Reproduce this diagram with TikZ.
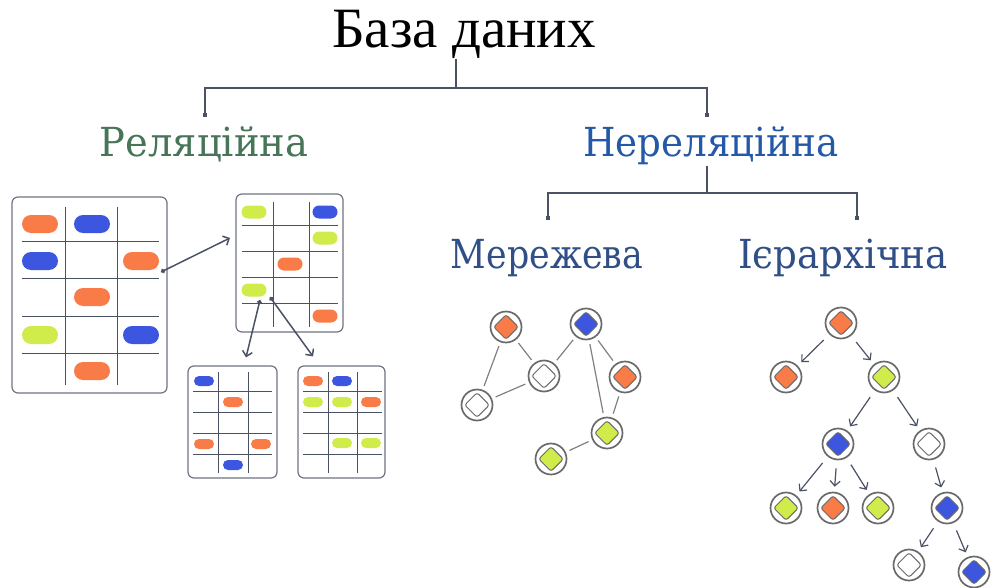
\documentclass[tikz,border=0pt]{standalone}
\usepackage{fontspec}
\setmainfont{Liberation Serif}
\newfontfamily\labfont[FakeStretch=0.96]{DejaVu Serif}
\newfontfamily\midfont[FakeStretch=0.93]{DejaVu Serif}
\newfontfamily\narfont[FakeStretch=0.87]{DejaVu Serif}
\usetikzlibrary{shapes.misc, shapes.geometric, arrows.meta}

\definecolor{pillorange}{HTML}{F97B47}
\definecolor{pillblue}{HTML}{3D56DF}
\definecolor{pilllime}{HTML}{CFEC4A}
\definecolor{relgreen}{HTML}{467558}
\definecolor{nonblue}{HTML}{2459A8}
\definecolor{subblue}{HTML}{2F4F86}
\definecolor{linegray}{HTML}{4A5264}
\definecolor{boxgray}{HTML}{6E7480}
\definecolor{ringgray}{HTML}{6A6A6A}

\tikzset{
  branch/.style={draw=linegray, line width=1.2pt},
  tablebox/.style={draw=boxgray, line width=1.2pt, rounded corners=6pt, fill=white, inner sep=0pt},
  gridline/.style={draw=linegray, line width=1pt},
  pillL/.style={rounded rectangle, fill=#1, minimum width=36pt, minimum height=18pt, inner sep=0pt},
  pillM/.style={rounded rectangle, fill=#1, minimum width=25pt, minimum height=13pt, inner sep=0pt},
  pillS/.style={rounded rectangle, fill=#1, minimum width=20pt, minimum height=10pt, inner sep=0pt},
  link/.style={draw=linegray, line width=1.5pt, {Circle[length=4.5pt]}-{Straight Barb[length=5pt,width=10pt]}},
  ring/.style={circle, draw=ringgray, line width=1.7pt, fill=white, minimum size=31pt, inner sep=0pt},
  gem/.style={diamond, draw=ringgray, line width=1pt, rounded corners=2.5pt, fill=#1, minimum size=25pt, inner sep=0pt},
  edge/.style={draw=gray, line width=1.2pt, shorten <=4pt, shorten >=4pt},
  down/.style={draw=linegray, line width=1.2pt, -{Straight Barb[length=5pt,width=10pt]}, shorten <=8pt, shorten >=5pt}
}

\begin{document}
\begin{tikzpicture}[x=1pt, y=-1pt]
  \useasboundingbox (0,0) rectangle (992,588);

  % Headings
  \node[anchor=base, inner sep=0pt, font=\fontsize{57}{64}\selectfont] (db) at (464,48) {База даних};
  \node[anchor=base, inner sep=0pt, text=relgreen, font=\labfont\fontsize{40}{46}\selectfont] (rel) at (204,157) {Реляційна};
  \node[anchor=base, inner sep=0pt, text=nonblue, font=\midfont\fontsize{40}{46}\selectfont] (non) at (711,157) {Нереляційна};
  \node[anchor=base, inner sep=0pt, text=subblue, font=\narfont\fontsize{40}{46}\selectfont] (net) at (547,268) {Мережева};
  \node[anchor=base, inner sep=0pt, text=subblue, font=\midfont\fontsize{40}{46}\selectfont] (hier) at (843,268) {Ієрархічна};

  % Branches
  \coordinate (j1) at (456,88);
  \coordinate (relTop) at (205,117);
  \coordinate (nonTop) at (707,117);
  \coordinate (j2) at (707,193);
  \coordinate (netTop) at (548,220);
  \coordinate (hierTop) at (857,220);
  \draw[branch] (db.south -| j1) -- (j1);
  \draw[branch, -{Square[length=4pt,width=4pt]}] (j1) -| (relTop);
  \draw[branch, -{Square[length=4pt,width=4pt]}] (j1) -| (nonTop);
  \draw[branch] (non.south -| j2) -- (j2);
  \draw[branch, -{Square[length=4pt,width=4pt]}] (j2) -| (netTop);
  \draw[branch, -{Square[length=4pt,width=4pt]}] (j2) -| (hierTop);

  % Big table
  \node[tablebox, minimum width=155pt, minimum height=196pt] (bigtab) at (89.5,295) {};
  \draw[gridline] (65,207) -- (65,385) (117,207) -- (117,385)
    (22,241) -- (159,241) (22,278) -- (159,278) (22,316) -- (159,316) (22,353) -- (159,353);
  \node[pillL=pillorange] at (40,224) {};
  \node[pillL=pillblue] at (92,224) {};
  \node[pillL=pillblue] at (40,261) {};
  \node[pillL=pillorange] (pillOut) at (141,261) {};
  \node[pillL=pillorange] at (92,297) {};
  \node[pillL=pilllime] at (40,335) {};
  \node[pillL=pillblue] at (141,335) {};
  \node[pillL=pillorange] at (92,371) {};

  % Upper table
  \node[tablebox, minimum width=107pt, minimum height=138pt] (uptab) at (289.5,263) {};
  \draw[gridline] (273,202) -- (273,327) (309,202) -- (309,327)
    (242,225) -- (338,225) (242,251) -- (338,251) (242,277) -- (338,277) (242,303) -- (338,303);
  \node[pillM=pilllime] at (254,212) {};
  \node[pillM=pillblue] at (325,212) {};
  \node[pillM=pilllime] at (325,238) {};
  \node[pillM=pillorange] at (290,264) {};
  \node[pillM=pilllime] (keypill) at (254,290) {};
  \node[pillM=pillorange] at (325,316) {};

  % Lower tables
  \node[tablebox, minimum width=89pt, minimum height=112pt] (lowtabA) at (232.5,422) {};
  \draw[gridline] (218,372) -- (218,473) (248,372) -- (248,473)
    (193,391) -- (272,391) (193,412) -- (272,412) (193,433) -- (272,433) (193,454) -- (272,454);
  \node[pillS=pillblue] at (204,381) {};
  \node[pillS=pillorange] at (233,402) {};
  \node[pillS=pillorange] at (204,444) {};
  \node[pillS=pillorange] at (261,444) {};
  \node[pillS=pillblue] at (233,465) {};

  \node[tablebox, minimum width=87pt, minimum height=112pt] (lowtabB) at (341.5,422) {};
  \draw[gridline] (328,372) -- (328,473) (357,372) -- (357,473)
    (303,391) -- (382,391) (303,412) -- (382,412) (303,433) -- (382,433) (303,454) -- (382,454);
  \node[pillS=pillorange] at (313,381) {};
  \node[pillS=pillblue] at (342,381) {};
  \node[pillS=pilllime] at (313,402) {};
  \node[pillS=pilllime] at (342,402) {};
  \node[pillS=pillorange] at (371,402) {};
  \node[pillS=pilllime] at (342,443) {};
  \node[pillS=pilllime] at (371,443) {};

  % Table links
  \coordinate (outA) at (161,272);
  \coordinate (inA) at (230,238);
  \coordinate (outB) at (260,300);
  \coordinate (outC) at (270,297);
  \draw[link] (outA) -- (inA);
  \draw[link] (outB) -- ([yshift=8pt]lowtabA.north -| 246,0);
  \draw[link] (outC) -- ([yshift=9pt]lowtabB.north -| 313,0);

  % Network
  \node[ring] (na) at (506,327) {}; \node[gem=pillorange] at (na) {};
  \node[ring] (nb) at (586,324) {}; \node[gem=pillblue] at (nb) {};
  \node[ring] (nc) at (544,376) {}; \node[gem=white] at (nc) {};
  \node[ring] (nd) at (477,405) {}; \node[gem=white] at (nd) {};
  \node[ring] (ne) at (625,377) {}; \node[gem=pillorange] at (ne) {};
  \node[ring] (nf) at (607,433) {}; \node[gem=pilllime] at (nf) {};
  \node[ring] (ng) at (551,459) {}; \node[gem=pilllime] at (ng) {};
  \draw[edge] (na) -- (nd);
  \draw[edge] (na) -- (nc);
  \draw[edge] (nc) -- (nd);
  \draw[edge] (nc) -- (nb);
  \draw[edge] (nb) -- (ne);
  \draw[edge] (nb) -- (nf);
  \draw[edge] (ne) -- (nf);
  \draw[edge] (nf) -- (ng);

  % Hierarchy
  \node[ring] (tr) at (841,323) {}; \node[gem=pillorange] at (tr) {};
  \node[ring] (ta) at (786,377) {}; \node[gem=pillorange] at (ta) {};
  \node[ring] (tb) at (884,377) {}; \node[gem=pilllime] at (tb) {};
  \node[ring] (tc) at (838,444) {}; \node[gem=pillblue] at (tc) {};
  \node[ring] (td) at (929,444) {}; \node[gem=white] at (td) {};
  \node[ring] (te) at (786,508) {}; \node[gem=pilllime] at (te) {};
  \node[ring] (tf) at (833,508) {}; \node[gem=pillorange] at (tf) {};
  \node[ring] (tg) at (878,508) {}; \node[gem=pilllime] at (tg) {};
  \node[ring] (th) at (947,508) {}; \node[gem=pillblue] at (th) {};
  \node[ring] (ti) at (909,565) {}; \node[gem=white] at (ti) {};
  \node[ring] (tj) at (974,572) {}; \node[gem=pillblue] at (tj) {};
  \draw[down] (tr) -- (ta);
  \draw[down] (tr) -- (tb);
  \draw[down] (tb) -- (tc);
  \draw[down] (tb) -- (td);
  \draw[down] (tc) -- (te);
  \draw[down] (tc) -- (tf);
  \draw[down] (tc) -- (tg);
  \draw[down] (td) -- (th);
  \draw[down] (th) -- (ti);
  \draw[down] (th) -- (tj);
\end{tikzpicture}
\end{document}
